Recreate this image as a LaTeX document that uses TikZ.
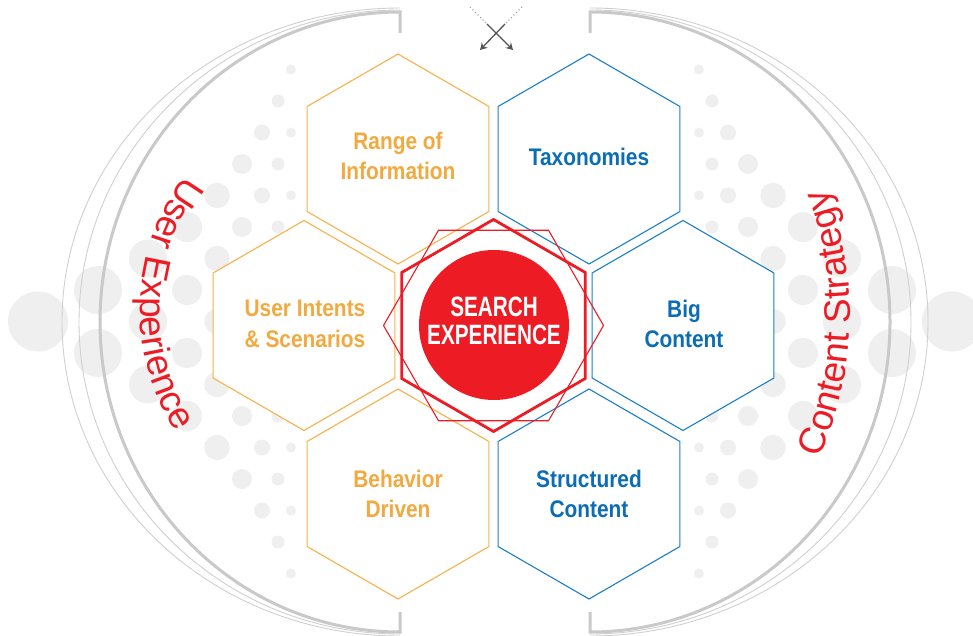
\documentclass[tikz,border=0pt]{standalone}
\usepackage{fontspec}
\usetikzlibrary{decorations.text,arrows.meta,calc}
\setmainfont{Liberation Sans}
\newfontfamily\lblfont[FakeStretch=0.87]{Liberation Sans}
\newfontfamily\srchfont[FakeStretch=0.74]{Liberation Sans}
\newfontfamily\arcfont{Liberation Sans}
\definecolor{myred}{HTML}{ED1C24}
\definecolor{myorange}{HTML}{F7B24A}
\definecolor{myorangetxt}{HTML}{F2A93F}
\definecolor{myblue}{HTML}{1A7FC8}
\definecolor{mybluetxt}{HTML}{0B6DB6}
\definecolor{dotgray}{HTML}{EFEFEF}
\definecolor{arcgray}{HTML}{C9C9C9}
\definecolor{thingray}{HTML}{D0D0D0}
\definecolor{arrowgray}{HTML}{555555}
\definecolor{dotlinegray}{HTML}{A0A0A0}
\newcommand{\hexagonpt}[3]{%
  \path[#1] ($(#2)+(90:#3)$) -- ($(#2)+(30:#3)$) -- ($(#2)+(-30:#3)$) -- ($(#2)+(-90:#3)$) -- ($(#2)+(-150:#3)$) -- ($(#2)+(150:#3)$) -- cycle;}
\newcommand{\hexagonft}[3]{%
  \path[#1] ($(#2)+(0:#3)$) -- ($(#2)+(60:#3)$) -- ($(#2)+(120:#3)$) -- ($(#2)+(180:#3)$) -- ($(#2)+(240:#3)$) -- ($(#2)+(300:#3)$) -- cycle;}
\begin{document}
\begin{tikzpicture}[x=1pt,y=-1pt,
  hexo/.style={draw=myorange, line width=1.1pt, fill=white, line join=miter},
  hexb/.style={draw=myblue, line width=1.1pt, fill=white, line join=miter},
  hexred/.style={draw=myred, line width=2.8pt, fill=white, line join=miter},
  hexredthin/.style={draw=myred, line width=1.1pt, line join=miter},
  lblo/.style={text=myorangetxt, font=\lblfont\bfseries\fontsize{24}{30.5}\selectfont, align=center, inner sep=0pt},
  lblb/.style={text=mybluetxt, font=\lblfont\bfseries\fontsize{24}{30.5}\selectfont, align=center, inner sep=0pt},
  srch/.style={text=white, font=\srchfont\bfseries\fontsize{28}{28}\selectfont, align=center, inner sep=0pt},
  arcthick/.style={draw=arcgray, line width=3pt},
  arcthin/.style={draw=thingray, line width=0.9pt},
  dotl/.style={draw=dotlinegray, line width=1.2pt, dash pattern=on 1pt off 2.6pt},
  arrl/.style={draw=arrowgray, line width=1.3pt, -{Stealth[length=7pt,width=8pt,inset=2.5pt]}}
]
\useasboundingbox (0,0) rectangle (973,636);
\fill[white] (0,0) rectangle (973,636);
% background dots
\foreach \k/\dx/\r in {0/204/5,1/217/6.5,2/233/8,3/253/10,4/278/12.7,5/308/15,6/347/19,7/397/24,8/457/30}{
  \pgfmathtruncatemacro\m{8-\k}
  \foreach \j in {0,...,\m}{
    \pgfmathsetmacro\yy{321.5+31.5*(2*\j-\m)}
    \fill[dotgray] ({495-\dx},\yy) circle[radius=\r];
    \fill[dotgray] ({495+\dx},\yy) circle[radius=\r];
  }
}
% grey arcs
\draw[arcthin] (400,10) arc[start angle=270,end angle=90,x radius=321,y radius=312];
\draw[arcthin] (400,8) arc[start angle=270,end angle=90,x radius=338,y radius=314];
\draw[arcthin] (590,10) arc[start angle=-90,end angle=90,x radius=321,y radius=312];
\draw[arcthin] (590,8) arc[start angle=-90,end angle=90,x radius=338,y radius=314];
\draw[arcthick] (400,33) -- (400,12) arc[start angle=270,end angle=90,x radius=300,y radius=310] -- (400,612);
\draw[arcthick] (590,33) -- (590,12) arc[start angle=-90,end angle=90,x radius=300,y radius=310] -- (590,612);
% hexagon centres
\coordinate (cRange) at (398,159);
\coordinate (cUser) at (304,325.5);
\coordinate (cBehav) at (398,494);
\coordinate (cTax) at (589,159);
\coordinate (cBig) at (683,325.5);
\coordinate (cStruct) at (589,494);
\coordinate (cCore) at (493.5,325.5);
\hexagonpt{hexo}{cRange}{105}
\hexagonpt{hexo}{cUser}{105}
\hexagonpt{hexo}{cBehav}{105}
\hexagonpt{hexb}{cTax}{105}
\hexagonpt{hexb}{cBig}{105}
\hexagonpt{hexb}{cStruct}{105}
\hexagonpt{hexred}{cCore}{106}
\hexagonft{hexredthin}{cCore}{110}
\node[circle, fill=myred, minimum size=150pt, inner sep=0pt] (core) at (494,325) {};
% labels
\node[lblo] (tRange) at (398,156) {Range of\\Information};
\node[lblo] (tUser) at (305,324) {User Intents\\\& Scenarios};
\node[lblo] (tBehav) at (398,494) {Behavior\\Driven};
\node[lblb] (tTax) at (589,157) {Taxonomies};
\node[lblb] (tBig) at (684,324) {Big\\Content};
\node[lblb] (tStruct) at (589,494) {Structured\\Content};
\node[srch] (tSearch) at (494,321) {SEARCH\\EXPERIENCE};
% curved texts
\path[decorate, decoration={text along path, text color=myred, text align=center,
  text={|\arcfont\fontsize{37}{44}\selectfont|User Experience}}]
  (364,310) ++(242:224) arc[start angle=242,end angle=122,radius=224];
\path[decorate, decoration={text along path, text color=myred, text align=center,
  text={|\arcfont\fontsize{37}{44}\selectfont|Content Strategy}}]
  (499,315) ++(46.5:351) arc[start angle=46.5,end angle=-43.5,radius=351];
% arrows at top
\coordinate (a1s) at (470,7);
\coordinate (a1m) at (487,24);
\coordinate (a1e) at (513,50);
\coordinate (a2s) at (522,7);
\coordinate (a2m) at (505,24);
\coordinate (a2e) at (480,50);
\draw[dotl] (a1s) -- (a1m);
\draw[dotl] (a2s) -- (a2m);
\draw[arrl] (a1m) -- (a1e);
\draw[arrl] (a2m) -- (a2e);
\end{tikzpicture}
\end{document}
